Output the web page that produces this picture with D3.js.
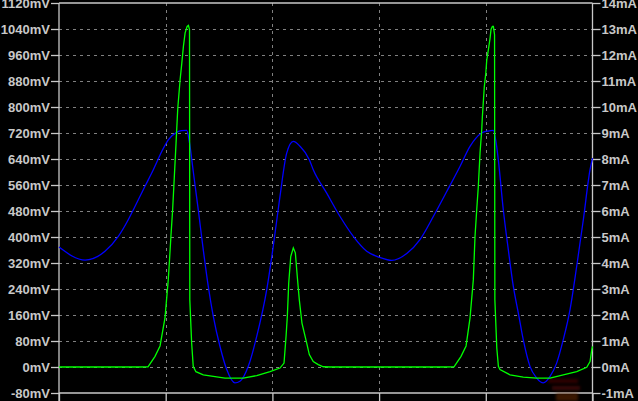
<!DOCTYPE html>
<html>
<head>
<meta charset="utf-8">
<script src="https://cdn.jsdelivr.net/npm/d3@7"></script>
<style>
html,body{margin:0;padding:0;background:#000;overflow:hidden;}
svg{display:block;}
</style>
</head>
<body>
<svg id="chart" width="638" height="401"></svg>
<script>
// ---- data ----
const leftTicks = [-80,0,80,160,240,320,400,480,560,640,720,800,880,960,1040,1120]; // mV
const rightTicks = [-1,0,1,2,3,4,5,6,7,8,9,10,11,12,13,14]; // mA
const timeTicks = [0,100,200,300,400,500];

// blue trace: voltage (mV)
const vTime = [0,24.4,43.1,55.6,64.9,71.2,80.6,88.4,96.3,102.4,110.3,115,119.7,122.1,125.9,130.5,135.2,139.9,144.6,150.9,157.2,164.9,169.6,177.4,185.3,194.7,200.8,207.1,213.4,219.6,225.9,234.6,238.3,250.9,263.4,275.8,288.4,300.8,311.8,325.9,338.3,350.8,363.4,375.8,385.2,396.2,402,407.0,409.5,411.7,416.4,421.1,425.8,430.5,435.1,441.4,447.7,453.9,460.2,466.4,472.6,478.9,485.2,491.4,497.7,500];
const vVal  = [369,329,356,402,453,494,556,607,663,699,722,727,728,694,600,484,361,248,156,63,-8,-49,-44,2,94,238,371,525,658,694,679,638,607,535,463,402,356,337,328,349,392,463,540,617,679,720,726,728,694,638,484,361,248,166,84,2,-34,-49,-29,12,84,176,310,453,607,643];

// green trace: current (mA)
const iTime = [0,75.0,83.4,90.0,94.7,99.3,102.4,103.4,104.9,106.5,108.1,109.7,111.3,113.5,115.1,116.6,118.2,120.1,121.3,122.3,122.6,124.3,125.8,128.3,135.2,144.6,155.6,172.7,185.3,197.8,207.1,210.9,212.8,214.0,215.3,217.2,219.6,221.5,223.3,225.2,227.7,232.1,234.6,238.3,243.0,247.7,254,361.8,370.2,376.8,381.5,385.2,388.3,389.9,391.5,393.0,394.6,396.2,396.8,398.6,400.0,400.9,402.4,404.0,404.9,406.2,407.1,408.2,408.5,410.3,411.8,413.3,422.7,435.1,447.7,460.2,472.6,485.2,494.6,497.7,499.3,500];
const iVal  = [0,0,0.01,0.41,0.81,1.88,3.35,4.0,5.03,6.05,7.33,8.61,9.94,11.05,11.69,12.33,12.85,13.10,13.14,12.98,2.59,0.93,0.03,-0.18,-0.30,-0.36,-0.43,-0.43,-0.33,-0.18,-0.04,0.15,1.18,1.95,3.23,4.25,4.58,4.39,3.49,2.59,1.69,0.93,0.48,0.21,0.09,0.01,0,0,0.01,0.41,0.81,1.88,3.35,5.03,6.05,6.95,8.23,9.13,9.64,10.78,11.30,11.81,12.20,12.65,12.98,13.10,13.10,12.78,2.59,0.73,0.03,-0.10,-0.30,-0.39,-0.43,-0.43,-0.30,-0.18,-0.01,0.21,0.66,0.79];

// ---- layout ----
const L = 59, R = 592.5, T = 3, B = 393;
const svg = d3.select("#chart");
svg.append("rect").attr("width",638).attr("height",401).attr("fill","#000");

const x = d3.scaleLinear().domain([0,500]).range([L,R]);
const yV = d3.scaleLinear().domain([-80,1120]).range([B,T]);
const yI = d3.scaleLinear().domain([-1,14]).range([B,T]);

const axisCol = "#c8c8c8";
const gridCol = "#808080";
const font = "'Liberation Sans', Arial, sans-serif";

// grid
const grid = svg.append("g");
grid.selectAll(".hg").data(leftTicks.filter(d=>d>-80 && d<1120)).enter().append("line")
  .attr("x1",L).attr("x2",R).attr("y1",d=>Math.round(yV(d))+0.5).attr("y2",d=>Math.round(yV(d))+0.5)
  .attr("stroke",gridCol).attr("stroke-width",1).attr("stroke-dasharray","3,4");
grid.selectAll(".vg").data(timeTicks.filter(d=>d>0 && d<500)).enter().append("line")
  .attr("y1",T).attr("y2",B).attr("x1",d=>Math.round(x(d))+0.5).attr("x2",d=>Math.round(x(d))+0.5)
  .attr("stroke",gridCol).attr("stroke-width",1).attr("stroke-dasharray","3,4");

// axes
const gL = svg.append("g").attr("transform",`translate(${L},0)`)
  .call(d3.axisLeft(yV).tickValues(leftTicks).tickSize(8).tickPadding(1).tickFormat(d=>d+"mV"));
const gR = svg.append("g").attr("transform",`translate(${R},0)`)
  .call(d3.axisRight(yI).tickValues(rightTicks).tickSize(8).tickPadding(1).tickFormat(d=>d+"mA"));
const gB = svg.append("g").attr("transform",`translate(0,${B})`)
  .call(d3.axisBottom(x).tickValues(timeTicks).tickSize(12).tickFormat(""));
const gT = svg.append("g").attr("transform",`translate(0,${T})`)
  .call(d3.axisTop(x).tickValues([]).tickSize(0));
[gL,gR,gB,gT].forEach(g=>{
  g.selectAll("path").attr("stroke",axisCol).attr("stroke-width",1.3);
  g.selectAll("line").attr("stroke",axisCol).attr("stroke-width",1.3);
  g.selectAll("text").attr("fill",axisCol).style("font-family",font)
    .style("font-size","13px").style("font-weight","bold");
});
gB.select("path.domain").attr("d",`M${L},0H${R}`);
gT.select("path.domain").attr("d",`M${L},0H${R}`);
gL.select("path.domain").attr("d",`M0,${T}V${B+10}`);
gR.select("path.domain").attr("d",`M0,${T}V${B+10}`);

// faint logo artifact near bottom right
const defs = svg.append("defs");
defs.append("filter").attr("id","blur").append("feGaussianBlur").attr("stdDeviation",1.5);
const logo = svg.append("g").attr("filter","url(#blur)").attr("opacity",0.55);
logo.append("rect").attr("x",548).attr("y",379).attr("width",30).attr("height",4).attr("fill","#5a0000");
logo.append("rect").attr("x",552).attr("y",386).attr("width",28).attr("height",4).attr("fill","#6a0808");
logo.append("rect").attr("x",556).attr("y",393).attr("width",22).attr("height",8).attr("fill","#6a2a00");

// traces
const plot = svg.append("g");
const vData = vTime.map((t,i)=>[t,vVal[i]]);
const iData = iTime.map((t,i)=>[t,iVal[i]]);
plot.append("path").datum(vData)
  .attr("d",d3.line().curve(d3.curveMonotoneX).x(d=>x(d[0])).y(d=>yV(d[1])))
  .attr("fill","none").attr("stroke","#0000ff").attr("stroke-width",1.3);
plot.append("path").datum(iData)
  .attr("d",d3.line().x(d=>x(d[0])).y(d=>yI(d[1])))
  .attr("fill","none").attr("stroke","#00ff00").attr("stroke-width",1.3);
</script>
</body>
</html>
